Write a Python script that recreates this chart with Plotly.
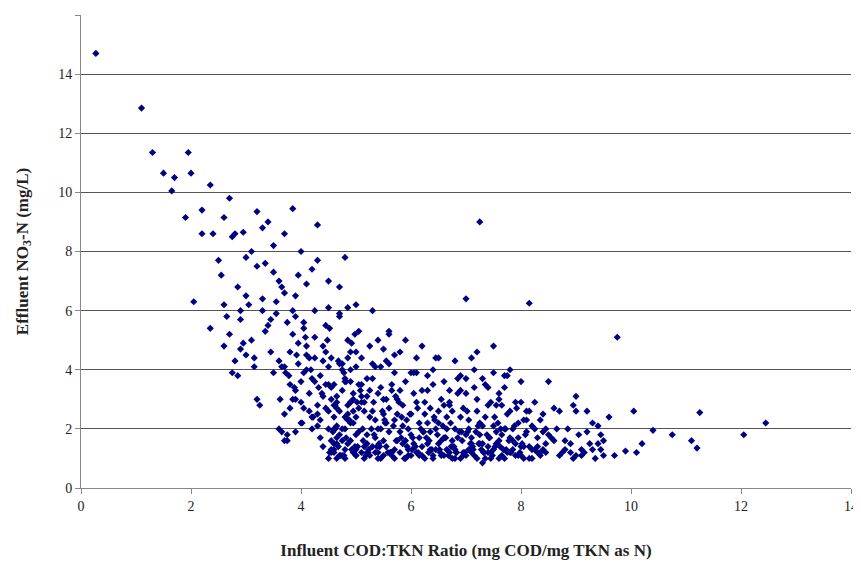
import plotly.graph_objects as go

outlier_x = [0.27,1.1,1.3,1.5,1.65,1.7,1.95,2.0,1.9,2.35,2.2,2.2,2.4,2.6,2.7,2.05,2.35,3.2,3.85,4.3,7.25,7.0,8.15,9.75,12.45,12.05,11.25,11.2,11.1,10.75,10.4,10.05,10.1,10.2,9.9,9.6,9.4,9.0,8.95]
outlier_y = [14.7,12.85,11.35,10.65,10.05,10.5,11.35,10.65,9.15,10.25,9.4,8.6,8.6,9.15,9.8,6.3,5.4,9.35,9.45,8.9,9.0,6.4,6.25,5.1,2.2,1.8,2.55,1.35,1.6,1.8,1.95,2.6,1.2,1.5,1.25,2.4,2.1,3.1,2.8]

upper_x = [2.5,2.55,2.6,2.65,2.7,2.75,2.8,2.85,2.9,2.95,3.0,3.0,2.75,2.8,2.85,2.9,3.05,3.1,3.15,3.2,3.2,3.25,3.3,3.35,3.4,3.45,3.5,3.5,2.6,2.9,3.0,3.1,3.3,3.4,3.6,3.55,3.65,3.7,3.6,3.7,3.6,3.75,3.8,3.85,3.9,3.95,4.0,3.8,3.9,4.0,3.7,3.9,4.05,4.1,4.15,4.2,4.25,4.3,4.35,4.4,4.45,4.5,4.55,4.6,4.65,4.7,4.75,4.8,4.85,4.9,4.95,5.0,4.2,4.4,4.6,4.8,5.0,4.1,4.3,4.5,4.7,4.9,3.75,3.85,3.95,4.05,4.15,4.25,4.35,4.45,4.55,4.65,4.75,4.85,5.05,5.1,5.2,5.3,5.4,5.5,5.6,5.7,5.15,5.25,5.35,5.45,5.55,5.65,3.3,3.45,3.55,3.65,4.0,4.1,4.2,4.3,4.4,4.5,4.6,4.7,4.8,4.9,5.0,2.95,3.15,3.35,3.5,3.7,3.9,4.05,4.25,4.45,4.65,4.85,
3.65,3.75,3.85,3.95,4.05,4.15,4.25,4.35,4.45,4.55,4.65,4.75,4.85,4.95,3.7,3.8,3.9,4.0,4.1,4.2,4.3,4.4,4.5,4.6,4.7,4.8,4.9,5.0,3.72,3.88,4.02,4.18,4.32,4.48,4.62,4.78,4.92,3.62,3.78,3.92,4.08,4.22,4.38,4.52,4.68,4.82,4.98]
upper_y = [7.7,7.2,6.2,5.8,5.2,8.5,8.6,6.8,5.7,8.65,7.8,6.5,3.9,4.3,3.8,4.7,6.2,5.0,4.1,7.5,3.0,2.8,6.0,7.6,5.5,4.6,8.2,3.9,4.8,6.0,4.5,8.0,8.8,9.0,7.0,5.9,6.8,8.6,4.3,2.5,2.0,1.8,3.5,5.2,6.5,7.2,8.0,4.6,3.0,2.2,1.6,1.9,5.6,4.0,3.2,7.4,6.0,2.5,1.7,4.8,5.5,7.0,3.4,2.8,1.5,6.8,4.2,7.8,5.0,3.6,2.2,6.2,2.0,1.4,1.2,1.3,1.1,6.9,7.7,6.1,5.8,4.6,5.6,6.0,4.9,3.9,2.6,5.1,3.8,2.7,4.4,3.1,3.3,6.1,5.3,4.4,3.7,6.0,5.0,4.7,5.2,3.9,2.9,4.8,4.1,3.4,4.3,3.3,6.4,5.7,6.3,4.1,3.6,4.5,2.4,2.1,3.1,2.6,2.0,5.9,2.4,2.9,4.1,4.9,4.4,5.3,7.3,6.6,5.8,5.4,4.4,3.5,2.9,2.3,1.9,1.6,
3.0,4.2,2.7,4.4,3.6,2.3,4.6,3.0,2.1,4.0,2.5,3.2,4.1,2.7,3.3,2.9,4.8,3.7,2.8,4.3,3.5,2.4,4.2,3.7,2.9,4.6,3.9,3.4,2.2,4.0,3.4,5.0,2.8,3.9,4.9,3.0,3.8,4.5,5.1,2.4,3.2,5.4,4.3,3.6,5.2,4.1,3.5,2.6]

dense_x = [4.5,4.6,4.7,4.8,4.9,5.0,5.1,5.2,5.3,5.4,5.5,5.6,5.7,5.8,5.9,6.0,6.1,6.2,6.3,6.4,6.5,6.6,6.7,6.8,6.9,7.0,7.1,7.2,7.3,7.4,7.5,7.6,7.7,7.8,7.9,8.0,8.1,8.2,8.3,8.4,
4.55,4.65,4.75,4.85,4.95,5.05,5.15,5.25,5.35,5.45,5.55,5.65,5.75,5.85,5.95,6.05,6.15,6.25,6.35,6.45,6.55,6.65,6.75,6.85,6.95,7.05,7.15,7.25,7.35,7.45,7.55,7.65,7.75,7.85,7.95,8.05,8.15,8.25,8.35,8.45,
4.5,4.6,4.7,4.8,4.9,5.0,5.1,5.2,5.3,5.4,5.5,5.6,5.7,5.8,5.9,6.0,6.1,6.2,6.3,6.4,6.5,6.6,6.7,6.8,6.9,7.0,7.1,7.2,7.3,7.4,7.5,7.6,7.7,7.8,7.9,8.0,8.1,8.2,8.3,8.4,
4.55,4.65,4.75,4.85,4.95,5.05,5.15,5.25,5.35,5.45,5.55,5.65,5.75,5.85,5.95,6.05,6.15,6.25,6.35,6.45,6.55,6.65,6.75,6.85,6.95,7.05,7.15,7.25,7.35,7.45,7.55,7.65,7.75,7.85,7.95,8.05,8.15,8.25,8.35,8.45,
4.5,4.6,4.7,4.8,4.9,5.0,5.1,5.2,5.3,5.4,5.5,5.6,5.7,5.8,5.9,6.0,6.1,6.2,6.3,6.4,6.5,6.6,6.7,6.8,6.9,7.0,7.1,7.2,7.3,7.4,7.5,7.6,7.7,7.8,7.9,8.0,8.1,8.2,8.3,8.4,
4.55,4.65,4.75,4.85,4.95,5.05,5.15,5.25,5.35,5.45,5.55,5.65,5.75,5.85,5.95,6.05,6.15,6.25,6.35,6.45,6.55,6.65,6.75,6.85,6.95,7.05,7.15,7.25,7.35,7.45,7.55,7.65,7.75,7.85,7.95,8.05,8.15,8.25,8.35,8.45,
5.0,5.2,5.4,5.6,5.8,6.0,6.2,6.4,6.6,6.8,7.0,7.2,7.4,7.6,7.8,8.0,5.1,5.3,5.5,5.7,5.9,6.1,6.3,6.5,6.7,6.9,7.1,7.3,7.5,7.7,
8.5,8.6,8.7,8.8,8.9,9.0,9.1,9.2,9.3,9.4,9.5,8.55,8.65,8.75,8.85,8.95,9.05,9.15,9.25,9.35,9.45,8.5,8.7,8.9,9.1,9.3,9.5,9.7,8.6,8.8,9.0,9.2,9.45,
4.52,4.62,4.72,4.82,4.92,5.02,5.12,5.22,5.32,5.42,5.52,5.62,5.72,5.82,5.92,6.02,6.12,6.22,6.32,6.42,6.52,6.62,6.72,6.82,6.92,7.02,7.12,7.22,7.32,7.42,7.52,7.62,7.72,7.82,7.92,8.02,
4.58,4.68,4.78,4.88,4.98,5.08,5.18,5.28,5.38,5.48,5.58,5.68,5.78,5.88,5.98,6.08,6.18,6.28,6.38,6.48,6.58,6.68,6.78,6.88,6.98,7.08,7.18,7.28,7.38,7.48,7.58,7.68,7.78,7.88,7.98,8.08,
5.03,5.13,5.23,5.33,5.43,5.53,5.63,5.73,5.83,5.93,6.03,6.13,6.23,6.33,6.43,6.53,6.63,6.73,6.83,6.93,7.03,7.13,7.23,7.33,7.43,7.53,7.63,7.73]
dense_y = [1.0,1.6,2.4,1.2,3.1,1.4,2.0,1.1,2.7,1.3,1.9,1.0,2.5,1.2,3.3,1.5,1.0,2.2,1.1,2.9,1.3,1.0,1.8,1.2,2.6,0.85,1.4,2.1,1.0,3.4,1.2,1.5,1.1,2.3,1.0,1.7,1.3,1.2,2.7,1.1,
2.8,1.2,1.9,2.6,1.1,2.3,1.0,3.0,1.2,1.6,2.8,1.1,1.5,2.2,1.0,2.7,1.3,1.6,2.4,1.0,3.2,1.2,2.0,1.1,1.5,2.4,1.0,1.9,2.8,1.2,1.6,2.2,1.0,1.4,2.9,1.1,1.5,1.0,1.3,1.8,
3.6,2.2,1.3,3.5,1.8,2.6,3.2,1.6,1.9,2.3,1.2,3.6,1.8,2.9,1.1,2.2,3.5,1.5,2.8,1.2,2.0,3.8,1.1,1.7,3.0,2.1,1.2,3.9,1.6,2.0,2.6,1.1,3.6,1.9,2.1,1.2,2.5,1.6,1.0,2.0,
1.5,3.0,2.7,1.4,2.4,1.7,2.0,1.4,3.5,2.5,1.5,2.0,3.2,1.1,2.5,1.3,2.0,3.0,1.3,2.6,1.7,2.7,1.3,3.4,2.2,1.0,2.9,1.5,1.8,2.5,1.3,1.7,2.3,1.0,2.0,2.3,1.2,2.0,1.5,1.1,
2.0,4.0,1.8,2.9,1.5,3.7,1.2,2.5,4.2,1.0,3.3,1.6,1.1,3.9,1.4,3.3,1.1,2.6,1.7,3.3,1.0,2.4,3.2,1.5,1.0,1.5,2.8,1.3,3.0,1.0,1.7,2.9,1.4,2.6,1.3,1.4,1.9,1.3,1.7,1.6,
4.4,2.6,3.5,1.0,3.3,1.2,4.1,2.2,1.1,3.0,2.1,1.3,3.9,1.7,2.9,1.9,4.4,1.1,2.0,1.6,3.7,1.1,2.3,4.0,1.8,3.5,1.2,2.8,1.1,3.8,2.0,1.1,1.4,2.6,1.3,1.2,2.0,1.1,1.2,1.0,
5.3,4.6,3.9,4.8,4.0,3.6,4.3,3.7,4.6,3.4,3.2,4.0,2.9,3.1,4.2,3.0,4.5,5.0,4.4,3.8,4.4,2.8,3.3,4.4,3.7,4.8,3.8,3.6,2.7,2.6,
1.6,1.2,2.6,1.1,1.9,1.3,1.5,1.1,1.7,2.0,1.2,2.0,1.0,1.8,1.2,1.5,1.0,1.3,1.8,1.1,1.5,1.3,2.2,1.6,1.1,1.6,1.3,1.1,2.6,1.8,1.2,2.0,1.1,
1.7,1.3,2.9,2.0,1.2,2.9,1.5,2.3,1.2,3.1,1.7,2.3,1.3,2.7,1.9,1.2,2.4,1.3,1.7,2.2,1.2,1.9,2.6,1.4,2.1,1.2,1.7,2.4,1.4,2.0,1.2,2.7,1.5,1.9,1.4,1.1,
2.3,1.4,3.3,1.1,2.0,1.4,2.6,1.2,2.1,2.9,1.0,2.5,1.4,2.0,1.7,1.3,1.8,2.1,1.1,1.4,1.9,1.2,1.5,1.9,1.3,1.8,1.1,2.2,1.3,1.6,2.1,1.2,1.8,1.4,1.6,1.3,
1.8,1.4,2.2,1.2,1.6,2.4,1.4,1.7,1.2,1.9,1.6,2.3,1.2,1.7,1.4,1.2,1.6,1.9,1.3,1.5,1.2,1.7,1.4,2.0,1.3,1.1,1.5,1.2]

xs = outlier_x + upper_x + dense_x
ys = outlier_y + upper_y + dense_y

fig = go.Figure(go.Scatter(x=xs, y=ys, mode="markers",
    marker=dict(symbol="diamond", size=5.5, color="#000080")))

serif = "Liberation Serif, Times New Roman, serif"
fig.update_layout(
    width=861, height=564, showlegend=False,
    plot_bgcolor="white", paper_bgcolor="white",
    margin=dict(l=73, r=18, t=7, b=84, autoexpand=False),
    font=dict(family=serif, size=14, color="#222"),
    xaxis=dict(range=[0,14], dtick=2, showgrid=False, showline=True, linecolor="#888", automargin=False,
               ticks="outside", ticklen=5, tickcolor="#888", zeroline=False,
               title=dict(text="<b>Influent COD:TKN Ratio (mg COD/mg TKN as N)</b>", font=dict(size=17), standoff=31)),
    yaxis=dict(range=[0,16], dtick=2, showgrid=True, gridcolor="#555", gridwidth=1, showline=True, linecolor="#888", automargin=False,
               ticks="outside", ticklen=5, tickcolor="#888", zeroline=False,
               title=dict(text="<b>Effluent NO<sub>3</sub>-N (mg/L)</b>", font=dict(size=17), standoff=25)),
)
fig.write_html("out.html")
